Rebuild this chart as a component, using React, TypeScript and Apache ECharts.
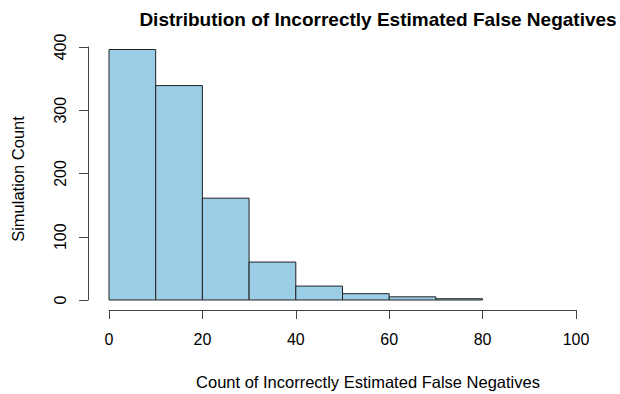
import React, { useEffect, useRef } from "react";
import * as echarts from "echarts";

const binStarts = [0, 10, 20, 30, 40, 50, 60, 70];
const binEnds = [10, 20, 30, 40, 50, 60, 70, 80];
const counts = [396, 339, 161, 60, 22, 10, 5, 2];
const xTicks = [0, 20, 40, 60, 80, 100];
const yTicks = [0, 100, 200, 300, 400];

const FONT = "Liberation Sans, Arial, Helvetica, sans-serif";

export default function App() {
  const ref = useRef<HTMLDivElement>(null);
  useEffect(() => {
    if (!ref.current) return;
    const chart = echarts.init(ref.current, undefined, { renderer: "svg" });
    const data = counts.map((c, i) => [binStarts[i], binEnds[i], c]);
    chart.setOption({
      animation: false,
      backgroundColor: "#ffffff",
      title: {
        text: "Distribution of Incorrectly Estimated False Negatives",
        left: 373,
        top: 5,
        textAlign: "center",
        textStyle: { fontFamily: FONT, fontSize: 19, fontWeight: "bold", color: "#000" },
      },
      grid: { left: 109, right: 44, top: 47, bottom: 94, outerBoundsMode: "none", containLabel: false },
      graphic: [
        {
          type: "text",
          x: 368,
          y: 382,
          style: {
            text: "Count of Incorrectly Estimated False Negatives",
            fontFamily: FONT,
            fontSize: 16.5,
            fill: "#000",
            textAlign: "center",
            textVerticalAlign: "middle",
          },
        },
        {
          type: "text",
          x: 18,
          y: 179,
          rotation: Math.PI / 2,
          style: {
            text: "Simulation Count",
            fontFamily: FONT,
            fontSize: 16.5,
            fill: "#000",
            textAlign: "center",
            textVerticalAlign: "middle",
          },
        },
      ],
      xAxis: {
        type: "value",
        min: xTicks[0],
        max: xTicks[xTicks.length - 1],
        interval: 20,
        offset: 10,
        splitLine: { show: false },
        axisLine: { show: true, onZero: false, lineStyle: { color: "#444", width: 1 } },
        axisTick: { show: true, length: 9, lineStyle: { color: "#444" } },
        axisLabel: { fontFamily: FONT, fontSize: 16, color: "#000", margin: 21 },
      },
      yAxis: {
        type: "value",
        min: yTicks[0],
        max: yTicks[yTicks.length - 1],
        interval: 100,
        offset: 21,
        splitLine: { show: false },
        axisLine: { show: true, onZero: false, lineStyle: { color: "#444", width: 1 } },
        axisTick: { show: true, length: 9, lineStyle: { color: "#444" } },
        axisLabel: { fontFamily: FONT, fontSize: 16, color: "#000", rotate: 90, margin: 20 },
      },
      series: [
        {
          type: "custom",
          data,
          encode: { x: [0, 1], y: 2 },
          renderItem: (params: any, api: any) => {
            const x0 = api.value(0);
            const x1 = api.value(1);
            const y = api.value(2);
            const p0 = api.coord([x0, y]);
            const p1 = api.coord([x1, 0]);
            return {
              type: "rect",
              shape: { x: p0[0], y: p0[1], width: p1[0] - p0[0], height: p1[1] - p0[1] },
              style: { fill: "#9ccde6", stroke: "#222", lineWidth: 1 },
            };
          },
        },
      ],
    });
    return () => chart.dispose();
  }, []);
  return (
    <div
      ref={ref}
      style={{ position: "absolute", left: 0, top: 0, width: 620, height: 394 }}
    />
  );
}
